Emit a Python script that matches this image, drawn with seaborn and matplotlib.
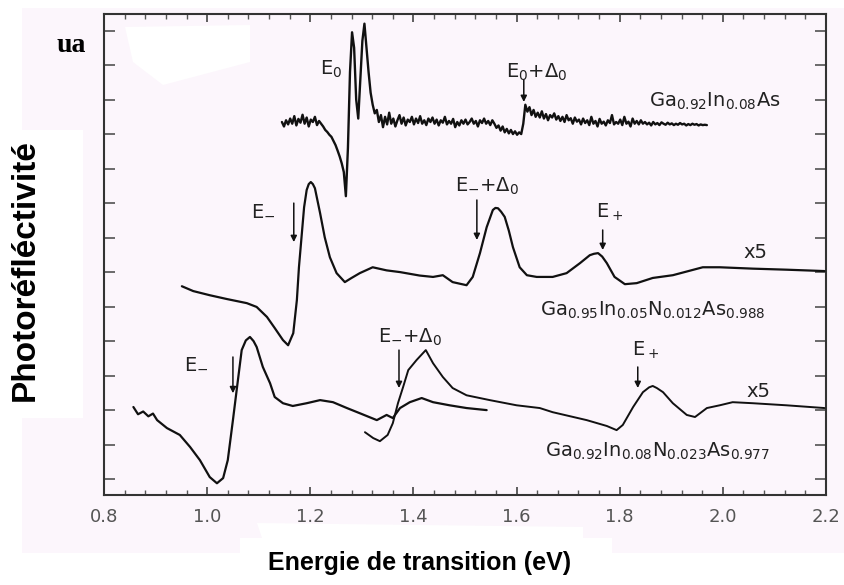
import numpy as np
import pandas as pd
import matplotlib
matplotlib.use("Agg")
import matplotlib.pyplot as plt
import seaborn as sns
from matplotlib.patches import Rectangle, Polygon
from matplotlib.ticker import MultipleLocator, NullFormatter

# ---------------------------------------------------------------------------
# Photoreflectance spectra (arbitrary units, curves offset vertically)
# ---------------------------------------------------------------------------

# Ga0.92In0.08As : evenly sampled from 1.145 eV to 1.969 eV
pr_gainas = [
    10.35, 10.22, 10.40, 10.28, 10.45, 10.30, 10.52, 10.25, 10.44, 10.33,
    10.56, 10.30, 10.48, 10.22, 10.42, 10.35, 10.50, 10.26, 10.38, 10.30,
    10.22, 10.12, 10.06, 9.98, 9.92, 9.80, 9.68, 9.52, 9.35, 9.15,
    8.90, 8.20, 9.60, 11.80, 12.95, 12.50, 11.00, 10.45, 11.60, 12.70,
    13.20, 12.50, 11.80, 11.20, 10.85, 10.60, 10.70, 10.35, 10.55, 10.20,
    10.50, 10.28, 10.62, 10.30, 10.45, 10.22, 10.40, 10.55, 10.30, 10.48,
    10.25, 10.42, 10.35, 10.50, 10.28, 10.45, 10.32, 10.52, 10.30, 10.40,
    10.26, 10.45, 10.35, 10.48, 10.30, 10.42, 10.25, 10.40, 10.33, 10.50,
    10.28, 10.38, 10.30, 10.44, 10.20, 10.35, 10.25, 10.40, 10.30, 10.42,
    10.28, 10.35, 10.45, 10.30, 10.38, 10.22, 10.40, 10.32, 10.45, 10.30,
    10.38, 10.26, 10.40, 10.30, 10.18, 10.25, 10.10, 10.22, 10.05, 10.15,
    10.02, 10.12, 10.00, 10.08, 9.98, 10.05, 10.00, 10.30, 10.85, 10.65,
    10.78, 10.55, 10.70, 10.50, 10.62, 10.48, 10.66, 10.45, 10.58, 10.40,
    10.55, 10.48, 10.60, 10.42, 10.52, 10.38, 10.50, 10.35, 10.55, 10.40,
    10.46, 10.30, 10.48, 10.36, 10.42, 10.28, 10.45, 10.32, 10.40, 10.26,
    10.50, 10.30, 10.38, 10.22, 10.44, 10.30, 10.36, 10.25, 10.40, 10.32,
    10.55, 10.28, 10.35, 10.30, 10.42, 10.26, 10.50, 10.30, 10.36, 10.22,
    10.45, 10.30, 10.38, 10.28, 10.40, 10.30, 10.35, 10.28, 10.33, 10.25,
    10.35, 10.28, 10.32, 10.26, 10.34, 10.30, 10.27, 10.33, 10.28, 10.31,
    10.26, 10.30, 10.27, 10.32, 10.28, 10.30, 10.25, 10.29, 10.26, 10.30,
    10.27, 10.29, 10.25, 10.28, 10.26, 10.27, 10.26,
]
energy_gainas = np.linspace(1.145, 1.969, len(pr_gainas))

# Ga0.95In0.05N0.012As0.988 (x5)
energy_n012 = [
    0.951, 0.973, 1.005, 1.038, 1.077, 1.096, 1.116, 1.131, 1.147, 1.157,
    1.167, 1.174, 1.178, 1.183, 1.188, 1.193, 1.197, 1.201, 1.205, 1.209,
    1.219, 1.228, 1.238, 1.251, 1.267, 1.280, 1.296, 1.321, 1.348, 1.374,
    1.412, 1.438, 1.457, 1.476, 1.503, 1.515, 1.529, 1.542, 1.554, 1.559,
    1.564, 1.570, 1.577, 1.585, 1.593, 1.606, 1.620, 1.639, 1.670, 1.697,
    1.723, 1.742, 1.750, 1.758, 1.766, 1.775, 1.790, 1.810, 1.833, 1.864,
    1.903, 1.961, 1.994, 2.058, 2.123, 2.197,
]
pr_n012 = [
    5.59, 5.45, 5.33, 5.22, 5.10, 4.99, 4.70, 4.38, 4.03, 3.88,
    4.23, 5.19, 6.14, 7.01, 7.88, 8.38, 8.55, 8.61, 8.55, 8.43,
    7.71, 7.01, 6.43, 5.97, 5.71, 5.83, 5.97, 6.14, 6.05, 6.00,
    5.90, 5.86, 5.91, 5.71, 5.62, 5.86, 6.55, 7.30, 7.80, 7.86,
    7.85, 7.75, 7.60, 7.20, 6.72, 6.14, 5.91, 5.86, 5.86, 5.97,
    6.26, 6.49, 6.53, 6.55, 6.45, 6.26, 5.86, 5.65, 5.68, 5.83,
    5.91, 6.14, 6.14, 6.10, 6.07, 6.03,
]

# Ga0.92In0.08N0.023As0.977, first scan (low-energy range)
energy_n023_low = [
    0.857, 0.866, 0.876, 0.886, 0.895, 0.903, 0.922, 0.947, 0.967, 0.986,
    1.005, 1.019, 1.031, 1.040, 1.050, 1.058, 1.067, 1.075, 1.083, 1.090,
    1.096, 1.108, 1.122, 1.131, 1.147, 1.166, 1.193, 1.219, 1.244, 1.271,
    1.296, 1.329, 1.348, 1.360, 1.374, 1.393, 1.416, 1.438, 1.470, 1.503,
    1.542,
]
pr_n023_low = [
    2.09, 1.88, 1.96, 1.82, 1.90, 1.71, 1.48, 1.28, 0.93, 0.55,
    0.06, -0.12, 0.03, 0.55, 1.71, 2.67, 3.74, 4.02, 4.12, 4.00,
    3.83, 3.25, 2.78, 2.38, 2.20, 2.12, 2.20, 2.29, 2.23, 2.06,
    1.91, 1.71, 1.86, 1.77, 2.06, 2.23, 2.35, 2.23, 2.14, 2.06,
    2.00,
]

# Ga0.92In0.08N0.023As0.977, second scan (x5, high-energy range)
energy_n023_high = [
    1.306, 1.322, 1.335, 1.350, 1.360, 1.370, 1.380, 1.390, 1.406, 1.424,
    1.438, 1.457, 1.476, 1.503, 1.548, 1.600, 1.645, 1.670, 1.736, 1.775,
    1.794, 1.806, 1.826, 1.845, 1.857, 1.864, 1.872, 1.884, 1.903, 1.930,
    1.946, 1.969, 1.994, 2.019, 2.058, 2.123, 2.197,
]
pr_n023_high = [
    1.36, 1.19, 1.10, 1.28, 1.62, 2.20, 2.67, 3.16, 3.45, 3.74,
    3.36, 2.96, 2.64, 2.43, 2.29, 2.14, 2.06, 1.94, 1.71, 1.54,
    1.42, 1.57, 2.09, 2.52, 2.66, 2.70, 2.64, 2.52, 2.20, 1.86,
    1.80, 2.06, 2.14, 2.23, 2.20, 2.14, 2.06,
]

# Transition markers: (energy, arrow top, arrow tip)
marker_energy = [1.614, 1.168, 1.523, 1.767, 1.050, 1.372, 1.835]
marker_top = [11.57, 8.00, 8.09, 7.22, 3.54, 3.74, 3.25]
marker_tip = [10.93, 6.87, 6.93, 6.64, 2.49, 2.64, 2.64]

# Labels: (text, centre energy, baseline value)
label_text = [
    "E$_0$", "E$_0$+Δ$_0$", "Ga$_{0.92}$In$_{0.08}$As",
    "E$_{-}$", "E$_{-}$+Δ$_0$", "E$_+$", "x5",
    "Ga$_{0.95}$In$_{0.05}$N$_{0.012}$As$_{0.988}$",
    "E$_{-}$", "E$_{-}$+Δ$_0$", "E$_+$", "x5",
    "Ga$_{0.92}$In$_{0.08}$N$_{0.023}$As$_{0.977}$",
]
label_x = [1.240, 1.639, 1.984, 1.109, 1.542, 1.781, 2.064,
           1.865, 0.979, 1.393, 1.851, 2.069, 1.874]
label_y = [11.71, 11.62, 10.78, 7.65, 8.32, 7.57, 6.41,
           4.75, 3.22, 3.94, 3.59, 2.38, 0.64]

x_ticks = [0.8, 1.0, 1.2, 1.4, 1.6, 1.8, 2.0, 2.2]
x_ticklabels = ["0.8", "1.0", "1.2", "1.4", "1.6", "1.8", "2.0", "2.2"]

# ---------------------------------------------------------------------------
sns.set_theme(style="ticks")
plt.rcParams["font.family"] = ["DejaVu Sans"]
plt.rcParams["mathtext.fontset"] = "dejavusans"

W, H = 845, 585
TINT = "#fcf6fc"
INK = "#111111"

fig = plt.figure(figsize=(W / 100, H / 100), dpi=100)
fig.patch.set_facecolor("white")


def fpt(x, y):
    """pixel position -> figure fraction"""
    return (x / W, 1 - y / H)


# tinted panel with a few blank areas
fig.patches.append(Rectangle(fpt(22, 553), 823 / W, 545 / H, transform=fig.transFigure,
                             facecolor=TINT, edgecolor="none", zorder=-10))
fig.patches.append(Rectangle(fpt(0, 418), 83 / W, 288 / H, transform=fig.transFigure,
                             facecolor="white", edgecolor="none", zorder=-9))
fig.patches.append(Polygon([fpt(*p) for p in [(240, 553), (240, 538), (262, 538), (257, 523),
                                               (583, 527), (583, 538), (612, 538), (612, 553)]],
                           transform=fig.transFigure, facecolor="white", edgecolor="none",
                           zorder=-9))

ax = fig.add_axes([104 / W, 90 / H, 722 / W, 481 / H])
ax.set_facecolor("none")
ax.add_patch(Polygon([fpt(*p) for p in [(125, 27), (250, 25), (250, 62), (163, 85), (133, 62)]],
                     transform=fig.transFigure, facecolor="white", edgecolor="none",
                     zorder=0.5, clip_on=False))

curves = [
    (energy_gainas, pr_gainas, 1.7),
    (energy_n012, pr_n012, 1.6),
    (energy_n023_low, pr_n023_low, 1.6),
    (energy_n023_high, pr_n023_high, 1.4),
]
for xs, ys, lw in curves:
    df = pd.DataFrame({"energy": xs, "pr": ys})
    sns.lineplot(data=df, x="energy", y="pr", ax=ax, color=INK, lw=lw,
                 sort=False, estimator=None, zorder=3)

for xe, y0, y1 in zip(marker_energy, marker_top, marker_tip):
    ax.annotate("", xy=(xe, y1), xytext=(xe, y0),
                arrowprops=dict(arrowstyle="-|>", color=INK, lw=1.1,
                                mutation_scale=9, shrinkA=0, shrinkB=0),
                zorder=4)

for t, xe, yv in zip(label_text, label_x, label_y):
    ax.text(xe, yv, t, ha="center", va="baseline", fontsize=14, color="#222222", zorder=5)

ax.set_xlim(0.8, 2.2)
ax.set_ylim(-0.46, 13.48)
ax.set_xticks(x_ticks)
ax.set_xticklabels(x_ticklabels)
ax.xaxis.set_minor_locator(MultipleLocator(0.04))
ax.set_yticks(range(0, 14))
ax.yaxis.set_major_formatter(NullFormatter())
ax.set_xlabel("")
ax.set_ylabel("")

for s in ax.spines.values():
    s.set_visible(True)
    s.set_color("#333333")
    s.set_linewidth(1.5)

ax.tick_params(axis="x", which="major", direction="in", top=True, bottom=True,
               length=6, width=1.2, color="#444444", labelsize=13,
               labelcolor="#555555", pad=9)
ax.tick_params(axis="x", which="minor", direction="in", top=True, bottom=True,
               length=3.5, width=1.0, color="#555555")
ax.tick_params(axis="y", which="major", direction="in", left=True, right=True,
               length=8, width=1.1, color="#444444")

fig.text(*fpt(71, 45), "ua", family="Liberation Serif", fontweight="bold",
         fontsize=20, ha="center", va="center", color="black")
fig.text(*fpt(25, 270), "Photoréfléctivité", family="Liberation Sans", fontweight="bold",
         fontsize=24, rotation=90, ha="center", va="center", color="black")
fig.text(*fpt(420, 563), "Energie de transition (eV)", family="Liberation Sans",
         fontweight="bold", fontsize=18, ha="center", va="center", color="black")

fig.savefig("out.png", dpi=100, facecolor=fig.get_facecolor())
